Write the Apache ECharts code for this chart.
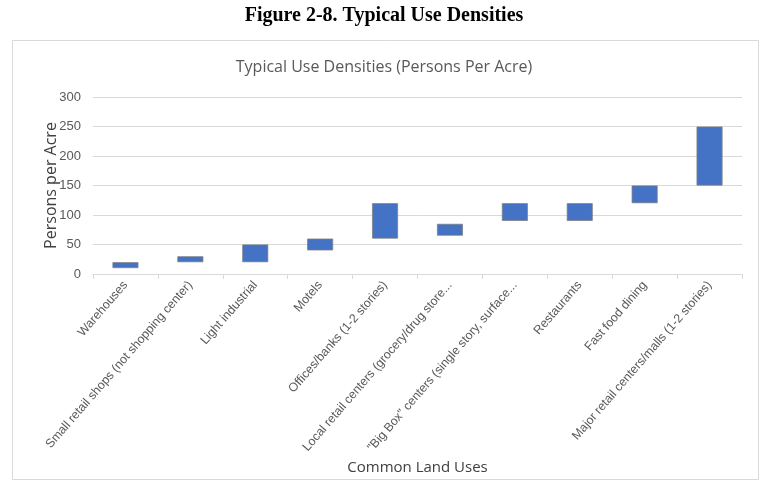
<!DOCTYPE html>
<html>
<head>
<meta charset="utf-8">
<script src="https://cdn.jsdelivr.net/npm/echarts@6/dist/echarts.min.js"></script>
<style>
html,body{margin:0;padding:0;background:#fff;}
#main{width:768px;height:482px;}
</style>
</head>
<body>
<div id="main"></div>
<script>
const categories = [
  'Warehouses',
  'Small retail shops (not shopping center)',
  'Light industrial',
  'Motels',
  'Offices/banks (1-2 stories)',
  'Local retail centers (grocery/drug store...',
  '"Big Box" centers (single story, surface...',
  'Restaurants',
  'Fast food dining',
  'Major retail centers/malls (1-2 stories)'
];
const lowValues  = [10, 20, 20, 40, 60, 65, 90, 90, 120, 150];
const highValues = [20, 30, 50, 60, 120, 85, 120, 120, 150, 250];
const yTicks = [0, 50, 100, 150, 200, 250, 300];

const rangeValues = highValues.map((h, i) => h - lowValues[i]);

const chart = echarts.init(document.getElementById('main'), null, {renderer: 'canvas'});
chart.setOption({
  animation: false,
  backgroundColor: '#fff',
  title: [
    {
      text: 'Figure 2-8. Typical Use Densities',
      left: 'center', top: 1,
      textStyle: {fontFamily: 'Liberation Serif', fontWeight: 'bold', fontSize: 20, color: '#000'}
    },
    {
      text: 'Typical Use Densities (Persons Per Acre)',
      left: 'center', top: 54,
      textStyle: {fontFamily: 'Open Sans', fontWeight: 'normal', fontSize: 16, color: '#595959'}
    }
  ],
  graphic: [{
    type: 'rect', silent: true, z: -1,
    shape: {x: 12.5, y: 40.5, width: 746, height: 439},
    style: {fill: 'none', stroke: '#d9d9d9', lineWidth: 1}
  }],
  grid: {left: 93, right: 26, top: 97, bottom: 208},
  xAxis: {
    type: 'category',
    data: categories,
    name: 'Common Land Uses',
    nameLocation: 'middle',
    nameGap: 186,
    nameMoveOverlap: false,
    nameTextStyle: {fontFamily: 'Open Sans', fontSize: 15, color: '#404040'},
    axisLine: {lineStyle: {color: '#d9d9d9'}},
    axisTick: {show: true, alignWithLabel: false, length: 5, lineStyle: {color: '#d9d9d9'}},
    axisLabel: {
      rotate: 49, margin: 9, interval: 0,
      fontFamily: 'Liberation Sans', fontSize: 12.3, color: '#595959'
    }
  },
  yAxis: {
    type: 'value',
    min: yTicks[0], max: yTicks[yTicks.length - 1], interval: 50,
    name: 'Persons per Acre',
    nameLocation: 'middle',
    nameGap: 34,
    nameMoveOverlap: false,
    nameTextStyle: {fontFamily: 'Open Sans', fontSize: 16, color: '#404040'},
    axisLine: {show: false},
    axisTick: {show: false},
    axisLabel: {margin: 12, fontFamily: 'Liberation Sans Narrow, Liberation Sans', fontSize: 13, color: '#595959'},
    splitLine: {lineStyle: {color: '#d9d9d9'}}
  },
  series: [
    {
      type: 'bar', stack: 'range', data: lowValues,
      itemStyle: {color: 'transparent'}, barWidth: '40%', silent: true
    },
    {
      type: 'bar', stack: 'range', data: rangeValues,
      itemStyle: {color: '#4472C4', borderColor: '#7f7f7f', borderWidth: 0.75},
      barWidth: '40%'
    }
  ]
});
</script>
</body>
</html>
